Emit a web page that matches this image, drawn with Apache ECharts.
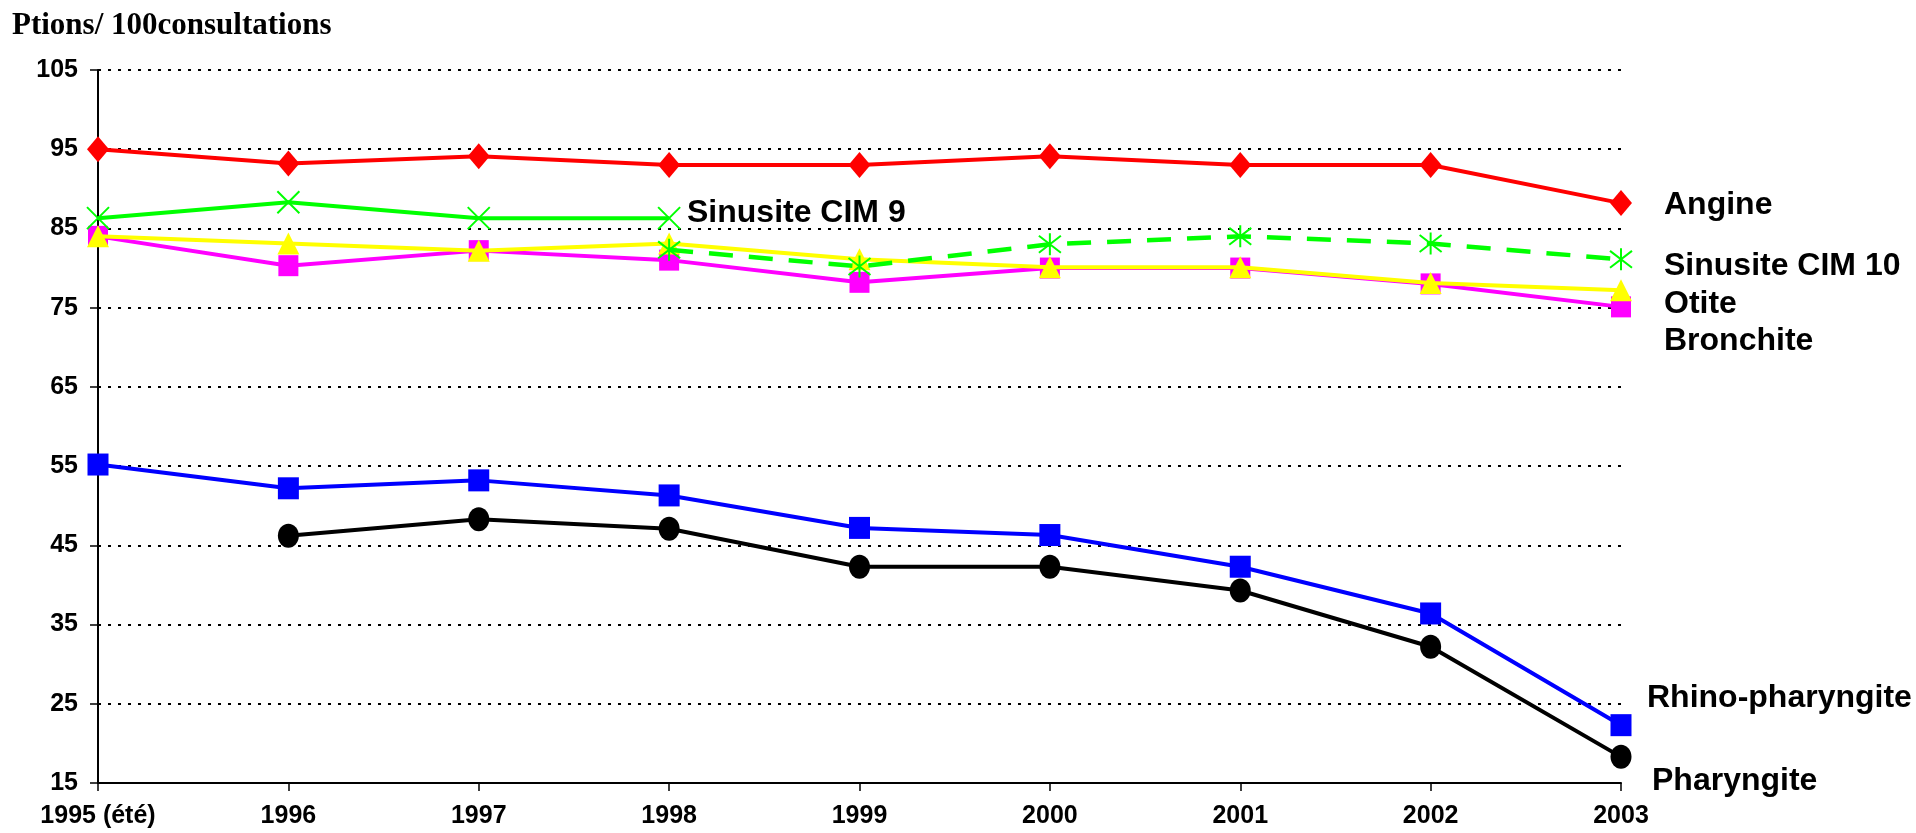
<!DOCTYPE html>
<html>
<head>
<meta charset="utf-8">
<script src="https://cdn.jsdelivr.net/npm/echarts@6/dist/echarts.min.js"></script>
<style>
html,body{margin:0;padding:0;background:#fff;}
#c{width:1916px;height:833px;}
</style>
</head>
<body>
<div id="c"></div>
<script>
const categories = ['1995 (été)','1996','1997','1998','1999','2000','2001','2002','2003'];
const angine = [95, 93.2, 94.1, 93, 93, 94.1, 93, 93, 88.2];
const sinusiteCim9 = [86.3, 88.3, 86.3, 86.3, null, null, null, null, null];
const sinusiteCim10 = [null, null, null, 82.3, 80.2, 83, 84, 83.1, 81.1];
const otite = [84, 83.1, 82.2, 83.1, 81.1, 80.1, 80.1, 78.1, 77.2];
const bronchite = [84, 80.3, 82.2, 81, 78.2, 80, 80, 78, 75.1];
const rhino = [55.2, 52.2, 53.2, 51.3, 47.2, 46.3, 42.3, 36.4, 22.3];
const pharyngite = [null, 46.2, 48.3, 47.1, 42.3, 42.3, 39.3, 32.2, 18.3];
const yTicks = {min: 15, max: 105, interval: 10};
const seriesLabels = ['Angine','Sinusite CIM 9','Sinusite CIM 10','Otite','Bronchite','Rhino-pharyngite','Pharyngite'];

const X_PATH = 'path://M0 0L10 10M10 0L0 10';
const AST_PATH = 'path://M0 0L10 10M10 0L0 10M5 -1.5L5 11.5';
const chart = echarts.init(document.getElementById('c'));
const lab = (text, x, y) => ({type:'text', left:x, top:y, style:{text, font:'bold 32px "Liberation Sans", Arial, sans-serif', fill:'#000'}});

function ser(name, data, color, symbol, size, extra) {
  return Object.assign({
    name, type:'line', data, symbol, symbolSize:size, showSymbol:true,
    lineStyle:{color, width:4}, itemStyle:{color, borderColor:color, borderWidth:0},
    connectNulls:false, animation:false
  }, extra || {});
}

chart.setOption({
  animation:false,
  grid:{left:98, right:295, top:70, bottom:50, containLabel:false},
  xAxis:{
    type:'category', data:categories, boundaryGap:false,
    axisLine:{lineStyle:{color:'#000', width:2}},
    axisTick:{show:true, alignWithLabel:true, length:8, lineStyle:{color:'#000', width:1.5}},
    axisLabel:{color:'#000', fontWeight:'bold', fontSize:25, fontFamily:'"Liberation Sans", Arial, sans-serif', margin:21, interval:0},
    splitLine:{show:false}
  },
  yAxis:{
    type:'value', min:yTicks.min, max:yTicks.max, interval:yTicks.interval,
    axisLine:{show:true, lineStyle:{color:'#000', width:2}},
    axisTick:{show:true, length:8, lineStyle:{color:'#000', width:1.5}},
    axisLabel:{color:'#000', fontWeight:'bold', fontSize:25, fontFamily:'"Liberation Sans", Arial, sans-serif', margin:20},
    splitLine:{show:true, lineStyle:{color:'#000', type:[3,7], width:2}}
  },
  graphic:[
    {type:'text', left:12, top:10, style:{text:'Ptions/ 100consultations', font:'bold 31px "Liberation Serif", "Times New Roman", serif', fill:'#000'}},
    lab(seriesLabels[0], 1664, 189),
    lab(seriesLabels[1], 687, 197),
    lab(seriesLabels[2], 1664, 250),
    lab(seriesLabels[3], 1664, 288),
    lab(seriesLabels[4], 1664, 325),
    lab(seriesLabels[5], 1647, 682),
    lab(seriesLabels[6], 1652, 765)
  ],
  series:[
    ser(seriesLabels[0], angine, '#FF0000', 'diamond', [22,26], {z:3}),
    ser(seriesLabels[1], sinusiteCim9, '#00FF00', X_PATH, 22, {z:3, itemStyle:{color:'#00FF00', borderColor:'#00FF00', borderWidth:2}}),
    ser(seriesLabels[4], bronchite, '#FF00FF', 'rect', [20,21], {z:2}),
    ser(seriesLabels[3], otite, '#FFFF00', 'triangle', [22,22], {z:3}),
    ser(seriesLabels[2], sinusiteCim10, '#00FF00', AST_PATH, 22, {z:4, lineStyle:{color:'#00FF00', width:4.5, type:[24,16]}, itemStyle:{color:'#00FF00', borderColor:'#00FF00', borderWidth:2}}),
    ser(seriesLabels[5], rhino, '#0000FF', 'rect', [21,22], {z:3}),
    ser(seriesLabels[6], pharyngite, '#000000', 'circle', [21,24], {z:3})
  ]
});
</script>
</body>
</html>
